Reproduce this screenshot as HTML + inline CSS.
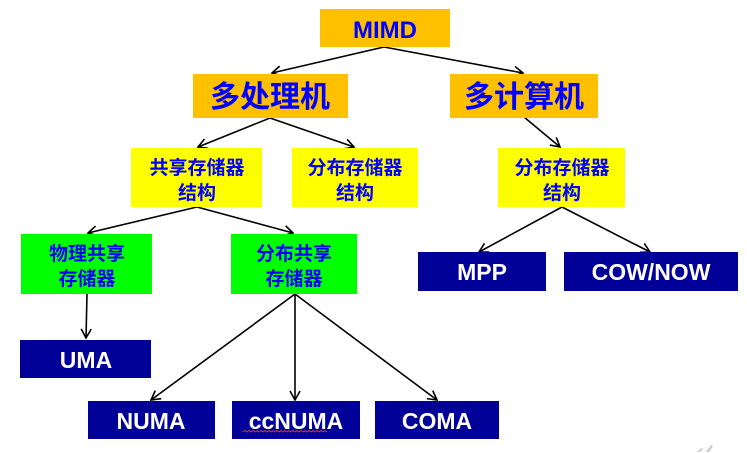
<!DOCTYPE html>
<html><head><meta charset="utf-8"><style>
html,body{margin:0;padding:0;background:#fff;width:747px;height:453px;overflow:hidden}
text{font-family:"Liberation Sans","Noto Sans CJK SC",sans-serif;font-weight:bold;text-anchor:middle}
</style></head><body>
<svg width="747" height="453" viewBox="0 0 747 453" xmlns="http://www.w3.org/2000/svg">
<defs><marker id="a" markerWidth="12" markerHeight="12" refX="10" refY="6" orient="auto" markerUnits="userSpaceOnUse"><path d="M1,1 L10,6 L1,11" fill="none" stroke="#000" stroke-width="1.6"/></marker></defs>
<g stroke="#000" stroke-width="1.6" fill="none" marker-end="url(#a)">
<line x1="384" y1="47" x2="272" y2="73"/>
<line x1="384" y1="47" x2="523" y2="73"/>
<line x1="270" y1="118" x2="198" y2="147"/>
<line x1="270" y1="118" x2="354" y2="147"/>
<line x1="524" y1="117" x2="560" y2="147"/>
<line x1="197" y1="207" x2="88" y2="233"/>
<line x1="197" y1="207" x2="293" y2="233"/>
<line x1="87" y1="294" x2="86" y2="338"/>
<line x1="295" y1="294" x2="151" y2="400"/>
<line x1="295" y1="294" x2="295" y2="400"/>
<line x1="295" y1="294" x2="437" y2="400"/>
<line x1="562" y1="207" x2="479" y2="252"/>
<line x1="562" y1="207" x2="650" y2="252"/>
</g>
<rect x="320" y="9" width="130" height="38" fill="#FFC000"/>
<text x="385" y="38" font-size="24" fill="#0000FF">MIMD</text>
<rect x="193" y="74" width="155" height="44" fill="#FFC000"/>
<text x="270" y="107" font-size="30" fill="#0000FF" font-weight="normal">多处理机</text>
<rect x="450" y="74" width="148" height="44" fill="#FFC000"/>
<text x="524" y="107" font-size="30" fill="#0000FF" font-weight="normal">多计算机</text>
<rect x="131" y="148" width="131" height="59" fill="#FFFF00"/>
<text x="197" y="174" font-size="19" fill="#0000FF">共享存储器</text><text x="197" y="199" font-size="19" fill="#0000FF">结构</text>
<rect x="292" y="148" width="126" height="59" fill="#FFFF00"/>
<text x="355" y="174" font-size="19" fill="#0000FF">分布存储器</text><text x="355" y="199" font-size="19" fill="#0000FF">结构</text>
<rect x="498" y="148" width="127" height="59" fill="#FFFF00"/>
<text x="562" y="174" font-size="19" fill="#0000FF">分布存储器</text><text x="562" y="199" font-size="19" fill="#0000FF">结构</text>
<rect x="21" y="234" width="131" height="60" fill="#00FF00"/>
<text x="87" y="260" font-size="19" fill="#0000FF">物理共享</text><text x="87" y="285" font-size="19" fill="#0000FF">存储器</text>
<rect x="231" y="234" width="126" height="60" fill="#00FF00"/>
<text x="294" y="260" font-size="19" fill="#0000FF">分布共享</text><text x="294" y="285" font-size="19" fill="#0000FF">存储器</text>
<g fill="#000099">
<rect x="20" y="340" width="131" height="38"/>
<rect x="88" y="401" width="127" height="38"/>
<rect x="232" y="401" width="128" height="38"/>
<rect x="375" y="401" width="124" height="38"/>
<rect x="418" y="252" width="128" height="39"/>
<rect x="564" y="252" width="174" height="39"/>
</g>
<g fill="#fff" font-size="23">
<text x="86" y="368">UMA</text>
<text x="151" y="429">NUMA</text>
<text x="296" y="429">ccNUMA</text>
<text x="437" y="429">COMA</text>
<text x="482" y="280">MPP</text>
<text x="651" y="280">COW/NOW</text>
</g>
<path d="M243,432 l2,-1.5 l2,1.5 l2,-1.5 l2,1.5 l2,-1.5 l2,1.5 l2,-1.5 l2,1.5 l2,-1.5 l2,1.5 l2,-1.5 l2,1.5 l2,-1.5 l2,1.5 l2,-1.5 l2,1.5 l2,-1.5 l2,1.5 l2,-1.5 l2,1.5 l2,-1.5 l2,1.5 l2,-1.5 l2,1.5 l2,-1.5 l2,1.5 l2,-1.5 l2,1.5 l2,-1.5 l2,1.5 l2,-1.5 l2,1.5 l2,-1.5 l2,1.5 l2,-1.5 l2,1.5 l2,-1.5 l2,1.5 l2,-1.5 l2,1.5 l2,-1.5 l2,1.5" stroke="#e03030" stroke-width="1" fill="none"/>
<path d="M697,452 l4,-4 l2,1 l-3,3z M706,452 l5,-7 l2,1 l-4,6z" fill="#ccc"/>
</svg>
</body></html>
